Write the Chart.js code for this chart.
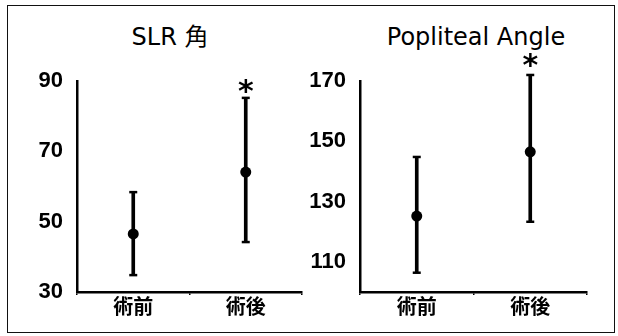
<!DOCTYPE html>
<html lang="ja">
<head>
    <meta charset="UTF-8">
    <title>SLR 角 / Popliteal Angle</title>
    <style>
        body {
            margin: 0;
            width: 618px;
            height: 336px;
            overflow: hidden;
            background: #fff;
            position: relative;
            font-family: "DejaVu Sans", sans-serif;
        }
        #frame {
            position: absolute;
            left: 7px;
            top: 5px;
            width: 606px;
            height: 326px;
            border: 1.5px solid #111;
        }
        .title {
            position: absolute;
            top: 22px;
            width: 240px;
            text-align: center;
            font-size: 24px;
            line-height: 30px;
            color: #000;
            font-family: "DejaVu Sans", "Noto Sans CJK JP", sans-serif;
        }
        canvas {
            position: absolute;
            top: 0;
        }
    </style>
</head>
<body>

<div id="frame"></div>
<div class="title" style="left:50px">SLR 角</div>
<div class="title" style="left:356px">Popliteal Angle</div>

<canvas id="slrChart" width="310" height="336" style="left:0"></canvas>
<canvas id="poplChart" width="310" height="336" style="left:308px"></canvas>

<script src="https://cdn.jsdelivr.net/npm/chart.js"></script>
<script>
    // data
    const categories = ['術前', '術後'];

    const slrMean = [46.5, 64.1];
    const slrUpper = [58.4, 85.2];
    const slrLower = [34.8, 44.2];
    const slrTicks = [30, 50, 70, 90];

    const poplMean = [125.2, 146.5];
    const poplUpper = [144.8, 172];
    const poplLower = [106.4, 123.3];
    const poplTicks = [110, 130, 150, 170];

    const significant = [false, true];

    // draws the "*" above the upper error bar
    const starPlugin = {
        id: 'star',
        afterDatasetsDraw(chart, args, opts) {
            const ctx = chart.ctx;
            const x = chart.scales.x;
            const y = chart.scales.y;
            ctx.save();
            ctx.fillStyle = '#000';
            ctx.font = 'bold 30px "DejaVu Sans"';
            ctx.textAlign = 'center';
            ctx.textBaseline = 'middle';
            opts.marks.forEach((on, i) => {
                if (!on) return;
                ctx.fillText('*', x.getPixelForValue(i), y.getPixelForValue(opts.upper[i]) - opts.gap);
            });
            ctx.restore();
        }
    };

    function makeChart(id, mean, upper, lower, ticks, yMin, yMax, axisWidth, padRight, gap) {
        const ranges = lower.map((v, i) => [v, upper[i]]);
        return new Chart(document.getElementById(id), {
            type: 'bar',
            data: {
                labels: categories,
                datasets: [
                    {
                        type: 'line',
                        data: mean,
                        showLine: false,
                        pointRadius: 5.5,
                        pointBackgroundColor: '#000',
                        pointBorderWidth: 0,
                        clip: false
                    },
                    {
                        type: 'line',
                        data: upper,
                        showLine: false,
                        pointStyle: 'line',
                        pointRadius: 4,
                        pointBorderColor: '#000',
                        pointBorderWidth: 2.5,
                        clip: false
                    },
                    {
                        type: 'line',
                        data: lower,
                        showLine: false,
                        pointStyle: 'line',
                        pointRadius: 4,
                        pointBorderColor: '#000',
                        pointBorderWidth: 2.5,
                        clip: false
                    },
                    {
                        data: ranges,
                        backgroundColor: '#000',
                        barThickness: 3,
                        grouped: false,
                        clip: false
                    }
                ]
            },
            options: {
                responsive: false,
                animation: false,
                layout: {
                    padding: { top: 81, right: padRight, bottom: 0, left: 0 }
                },
                plugins: {
                    legend: { display: false },
                    tooltip: { enabled: false },
                    star: { marks: significant, upper: upper, gap: gap }
                },
                scales: {
                    x: {
                        offset: true,
                        grid: {
                            display: true,
                            drawOnChartArea: false,
                            tickLength: 3,
                            color: '#000',
                            lineWidth: 1.5
                        },
                        border: { display: true, color: '#000', width: 2.5 },
                        ticks: {
                            color: '#000',
                            padding: -1,
                            font: { family: '"Noto Sans CJK JP"', size: 20, weight: 'bold' }
                        },
                        afterFit(scale) { scale.height = 44; }
                    },
                    y: {
                        min: yMin,
                        max: yMax,
                        grid: { display: false },
                        border: { display: true, color: '#000', width: 2.5 },
                        ticks: {
                            color: '#000',
                            padding: 6,
                            font: { family: '"Liberation Sans"', size: 22, weight: 'bold' }
                        },
                        afterBuildTicks(scale) {
                            scale.ticks = ticks.map(v => ({ value: v }));
                        },
                        afterFit(scale) { scale.width = axisWidth; }
                    }
                }
            },
            plugins: [starPlugin]
        });
    }

    makeChart('slrChart', slrMean, slrUpper, slrLower, slrTicks, 30, 90, 77, 8, 5);
    makeChart('poplChart', poplMean, poplUpper, poplLower, poplTicks, 100, 170, 52, 31, 8);
</script>
</body>
</html>
